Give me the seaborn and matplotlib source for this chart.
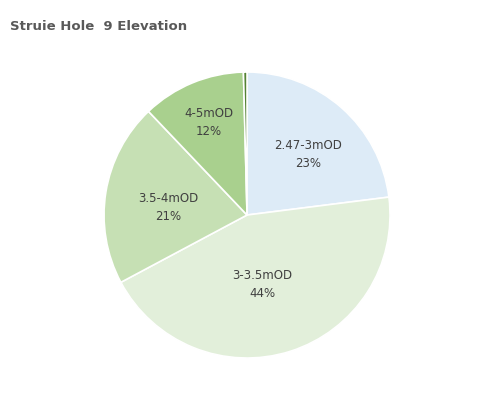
import numpy as np
import matplotlib
matplotlib.use('Agg')
import matplotlib.pyplot as plt
import seaborn as sns

sns.set_style('white')
plt.rcParams['font.family'] = ['DejaVu Sans']

# data
labels = ['2.47-3mOD', '3-3.5mOD', '3.5-4mOD', '4-5mOD', '5-6mOD']
shares = [23.0, 44.2, 20.7, 11.7, 0.4]
show_label = [True, True, True, True, False]

colors = ['#DDEBF7', '#E2EFDA', '#C6E0B4', '#A9D08E', '#548235']
# label placement (radius fraction, clockwise angle nudge in degrees)
label_dist = [0.60, 0.50, 0.555, 0.70, 0.6]
label_turn = [4, 5.4, -3.8, 0, 0]

fig = plt.figure(figsize=(4.97, 3.97), dpi=100)
ax = fig.add_axes([0.2093, 0.0982, 0.5755, 0.7204])

wedges, _ = ax.pie(shares, colors=colors, startangle=90, counterclock=False,
                   wedgeprops=dict(edgecolor='white', linewidth=1.2))
ax.set_xlim(-1, 1)
ax.set_ylim(-1, 1)
ax.set_aspect('equal')
ax.axis('off')

total = sum(shares)
for w, lab, val, show, d, t in zip(wedges, labels, shares, show_label,
                                    label_dist, label_turn):
    if not show:
        continue
    mid = np.deg2rad((w.theta1 + w.theta2) / 2 - t)
    ax.text(d * np.cos(mid), d * np.sin(mid),
            f'{lab}\n{round(val / total * 100):.0f}%',
            ha='center', va='center', fontsize=8.5, color='#404040',
            linespacing=1.5)

fig.text(0.02, 0.932, 'Struie Hole  9 Elevation', fontsize=9.5,
         fontweight='bold', color='#595959', ha='left', va='center')

fig.savefig('out.png', dpi=100)
